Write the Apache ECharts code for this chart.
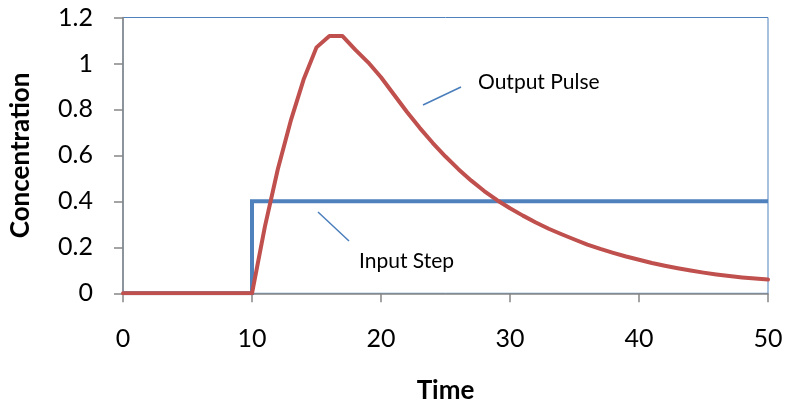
<!DOCTYPE html>
<html>
<head>
<meta charset="utf-8">
<script src="https://cdn.jsdelivr.net/npm/echarts@6/dist/echarts.min.js"></script>
<style>
  html, body { margin: 0; padding: 0; background: #fff; }
  #chart { width: 785px; height: 407px; }
</style>
</head>
<body>
<div id="chart"></div>
<script>
// Input step: concentration switches from 0 to 0.4 at t = 10
const inputTime = [0, 10, 10, 50];
const inputConc = [0, 0, 0.4, 0.4];

// Output pulse response
const outputTime = [0, 10, 11, 12, 13, 14, 15, 16, 17, 18, 19, 20, 21, 22, 23, 24, 25, 26, 27, 28, 29, 30,
  31, 32, 33, 34, 35, 36, 37, 38, 39, 40, 41, 42, 43, 44, 45, 46, 47, 48, 49, 50];
const outputConc = [0, 0, 0.29, 0.54, 0.75, 0.93, 1.07, 1.12, 1.12, 1.06, 1.005, 0.94, 0.865, 0.79, 0.72, 0.655,
  0.595, 0.54, 0.49, 0.445, 0.405, 0.37, 0.338, 0.308, 0.281, 0.257, 0.234, 0.212, 0.193, 0.176, 0.16, 0.146,
  0.132, 0.12, 0.109, 0.099, 0.09, 0.082, 0.075, 0.069, 0.064, 0.06];

const xTicks = { min: 0, max: 50, interval: 10 };
const yTicks = { min: 0, max: 1.2, interval: 0.2 };

const pairs = (xs, ys) => xs.map((x, i) => [x, ys[i]]);

const FONT = 'Lato';
const chart = echarts.init(document.getElementById('chart'));

chart.setOption({
  animation: false,
  grid: {
    left: 123, right: 17, top: 17.5, bottom: 113.7,
    outerBoundsMode: 'none', containLabel: false,
    show: true, borderColor: '#4F81BD', borderWidth: 1, backgroundColor: 'transparent'
  },
  xAxis: {
    type: 'value', min: xTicks.min, max: xTicks.max, interval: xTicks.interval,
    name: 'Time', nameLocation: 'middle', nameGap: 84,
    nameTextStyle: { fontFamily: FONT, fontWeight: 'bold', fontSize: 26, color: '#000' },
    axisLine: { show: true, lineStyle: { color: '#868686', width: 1.5 } },
    axisTick: { show: true, length: 9, lineStyle: { color: '#868686', width: 1.5 } },
    axisLabel: { fontFamily: FONT, fontSize: 25, color: '#000', margin: 33 },
    splitLine: { show: false }
  },
  yAxis: {
    type: 'value', min: yTicks.min, max: yTicks.max, interval: yTicks.interval,
    name: 'Concentration', nameLocation: 'middle', nameRotate: 90, nameGap: 89,
    nameTextStyle: { fontFamily: FONT, fontWeight: 'bold', fontSize: 26, color: '#000' },
    axisLine: { show: true, lineStyle: { color: '#868686', width: 1.5 } },
    axisTick: { show: true, length: 9, lineStyle: { color: '#868686', width: 1.5 } },
    axisLabel: { fontFamily: FONT, fontSize: 25, color: '#000', margin: 30 },
    splitLine: { show: false }
  },
  series: [
    {
      name: 'Input Step', type: 'line', data: pairs(inputTime, inputConc),
      showSymbol: false, lineStyle: { color: '#4F81BD', width: 4, join: 'miter' }
    },
    {
      name: 'Output Pulse', type: 'line', data: pairs(outputTime, outputConc),
      showSymbol: false, lineStyle: { color: '#C0504D', width: 4, join: 'round', cap: 'round' }
    }
  ],
  graphic: [
    { type: 'line', shape: { x1: 423, y1: 105, x2: 461, y2: 87 },
      style: { stroke: '#4A7EBB', lineWidth: 1.5 } },
    { type: 'text', left: 478, top: 72,
      style: { text: 'Output Pulse', fontFamily: FONT, fontSize: 21, fill: '#000' } },
    { type: 'line', shape: { x1: 318, y1: 212, x2: 349, y2: 241 },
      style: { stroke: '#4A7EBB', lineWidth: 1.5 } },
    { type: 'text', left: 359, top: 251,
      style: { text: 'Input Step', fontFamily: FONT, fontSize: 21, fill: '#000' } }
  ]
});
</script>
</body>
</html>
